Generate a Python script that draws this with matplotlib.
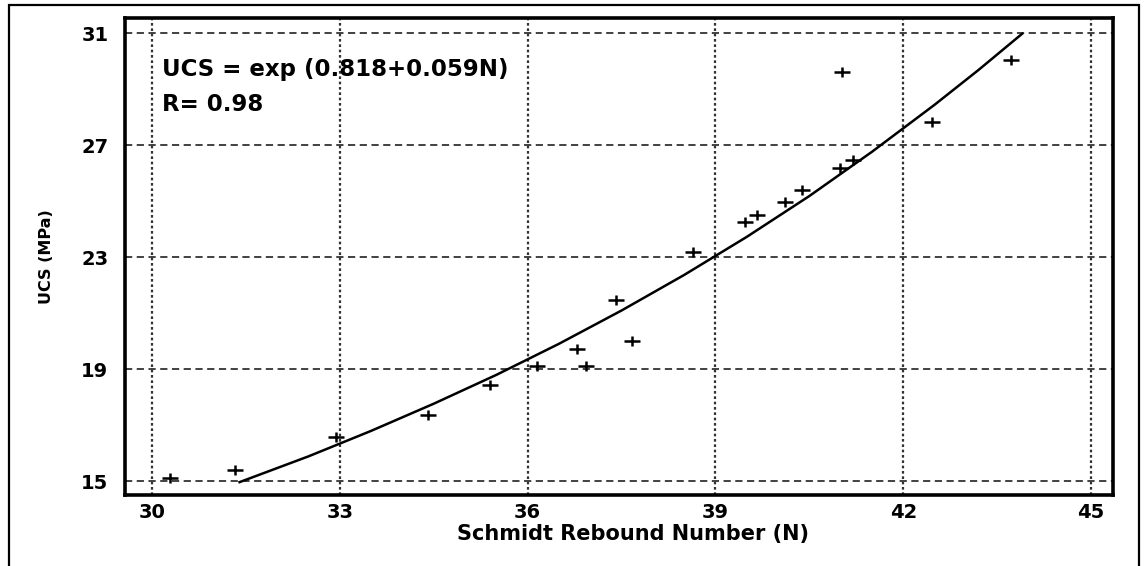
import numpy as np
import matplotlib
matplotlib.use("Agg")
import matplotlib.pyplot as plt
from matplotlib.path import Path
from matplotlib.patches import Rectangle

# Measured points (Schmidt rebound number N, UCS in MPa)
rebound_n = [30.29, 31.33, 32.94, 34.41, 35.40, 36.15, 36.79, 36.93, 37.41, 37.67,
             38.64, 39.47, 39.66, 40.11, 40.38, 40.99, 41.20, 41.02, 42.46, 43.72]
ucs_mpa = [15.10, 15.39, 16.57, 17.36, 18.43, 19.11, 19.71, 19.11, 21.46, 20.00,
           23.18, 24.25, 24.50, 24.96, 25.39, 26.18, 26.46, 29.60, 27.82, 30.04]

# Fitted curve
curve_n = [31.4, 32.5, 33.5, 34.5, 35.5, 36.5, 37.5, 38.5, 39.5, 40.5, 41.5, 42.5, 43.2, 43.9]
curve_ucs = [14.96, 15.88, 16.79, 17.76, 18.79, 19.90, 21.09, 22.36, 23.72, 25.18, 26.76, 28.44, 29.68, 30.98]

x_ticks = [30, 33, 36, 39, 42, 45]
y_ticks = [15, 19, 23, 27, 31]

equation_text = "UCS = exp (0.818+0.059N)"
r_text = "R= 0.98"
x_label = "Schmidt Rebound Number (N)"
y_label = "UCS (MPa)"

plt.rcParams['font.family'] = ['DejaVu Sans']

fig = plt.figure(figsize=(11.47, 5.66), dpi=100)
ax = fig.add_axes([125/1147, 1-495/566, (1113-125)/1147, (495-18)/566])

# outer frame of the whole figure
fig.patches.append(Rectangle((9/1147, -0.05), (1139-9)/1147, 1.05 - 5/566,
                             transform=fig.transFigure, fill=False,
                             edgecolor='black', linewidth=1.6, clip_on=False))

ax.set_xlim(29.57, 45.35)
ax.set_ylim(14.5, 31.54)
ax.set_xticks(x_ticks)
ax.set_yticks(y_ticks)
ax.set_xticklabels([str(v) for v in x_ticks], fontsize=14, fontweight='bold')
ax.set_yticklabels([str(v) for v in y_ticks], fontsize=14, fontweight='bold')
ax.tick_params(axis='both', length=0)
ax.tick_params(axis='x', pad=6)
ax.tick_params(axis='y', pad=12)

for v in x_ticks:
    ax.axvline(v, color='#333333', linestyle=(0, (1.2, 1.2)), linewidth=1.6, zorder=1)
for v in y_ticks:
    ax.axhline(v, color='#333333', linestyle=(0, (4, 2.5)), linewidth=1.3, zorder=1)

for s in ax.spines.values():
    s.set_linewidth(2.6)
    s.set_zorder(5)

# wide plus marker (the picture is stretched horizontally)
plus = Path([(-1.0, 0.0), (1.0, 0.0), (0.0, -0.68), (0.0, 0.68)],
            [Path.MOVETO, Path.LINETO, Path.MOVETO, Path.LINETO])
ax.plot(rebound_n, ucs_mpa, linestyle='none', marker=plus, markersize=11,
        markeredgewidth=1.8, color='black', zorder=4)
ax.plot(curve_n, curve_ucs, color='black', linewidth=1.8, zorder=3)

ax.text(0.0375, 0.891, equation_text, transform=ax.transAxes, fontsize=16.5,
        fontweight='bold', ha='left', va='center')
ax.text(0.0375, 0.818, r_text, transform=ax.transAxes, fontsize=16.5,
        fontweight='bold', ha='left', va='center')

ax.set_xlabel(x_label, fontsize=15, fontweight='bold')
ax.xaxis.set_label_coords(0.514, -0.082)
ax.xaxis.label.set_va('center')
ax.set_ylabel(y_label, fontsize=11.5, fontweight='bold')
ax.yaxis.set_label_coords(-0.079, 0.5)
ax.yaxis.label.set_va('center')

fig.savefig("out.png", dpi=100)
